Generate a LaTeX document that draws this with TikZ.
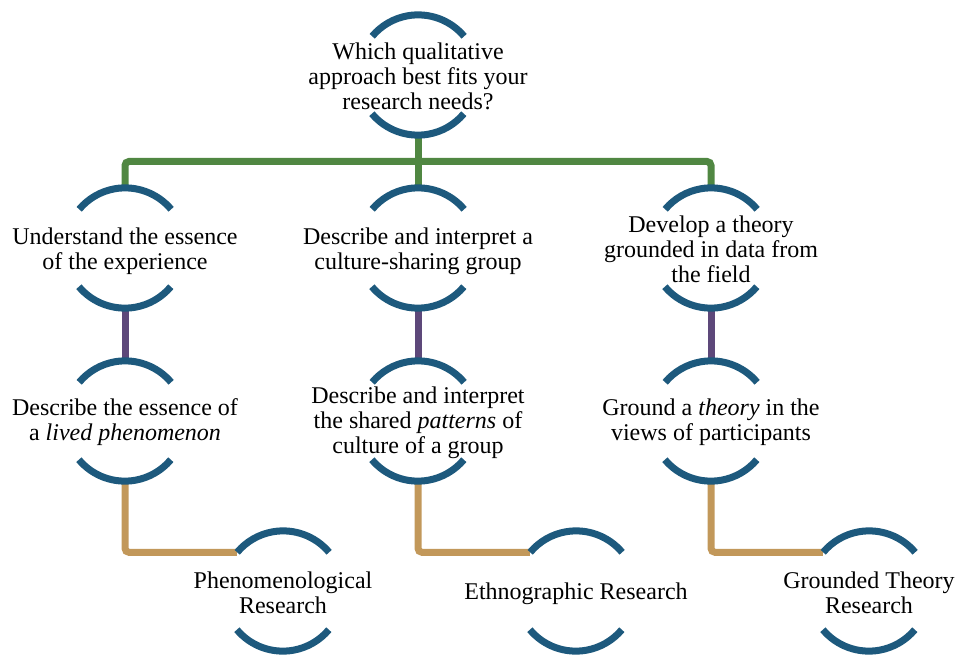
\documentclass[tikz,border=0pt]{standalone}
\usepackage{fontspec}
\setmainfont{Liberation Serif}
\usetikzlibrary{calc}
\definecolor{ringblue}{RGB}{29,89,125}
\definecolor{lgreen}{RGB}{80,135,66}
\definecolor{lpurple}{RGB}{93,72,122}
\definecolor{lgold}{RGB}{194,152,90}
\begin{document}
\begin{tikzpicture}[x=1pt,y=-1pt,
  ring/.style={circle, minimum size=120pt, inner sep=0pt, draw=none},
  txt/.style={align=center, font=\rmfamily\fontsize{24}{25}\selectfont, text=black, inner sep=0pt},
  arcline/.style={draw=ringblue, line width=7pt},
  gline/.style={draw=lgreen, line width=7pt, rounded corners=4pt},
  pline/.style={draw=lpurple, line width=7pt},
  oline/.style={draw=lgold, line width=7pt, rounded corners=4pt}]
\useasboundingbox (0,0) rectangle (957,655);
% ring positions
\node[ring] (q) at (418,75) {};
\node[ring] (a1) at (125,248) {};
\node[ring] (b1) at (418,248) {};
\node[ring] (c1) at (711,248) {};
\node[ring] (a2) at (125,421) {};
\node[ring] (b2) at (418,421) {};
\node[ring] (c2) at (711,421) {};
\node[ring] (a3) at (283,591) {};
\node[ring] (b3) at (576,591) {};
\node[ring] (c3) at (869,591) {};
% connectors
\coordinate (j) at ($(q.south)!0.5!(b1.north)$);
\draw[gline] (a1.north) |- (j) -| (c1.north);
\draw[gline] (q.south) -- (b1.north);
\draw[pline] (a1.south) -- (a2.north);
\draw[pline] (b1.south) -- (b2.north);
\draw[pline] (c1.south) -- (c2.north);
\draw[oline] (a2.south) |- (a3.140);
\draw[oline] (b2.south) |- (b3.140);
\draw[oline] (c2.south) |- (c3.140);
% arcs
\foreach \n in {q,a1,b1,c1,a2,b2,c2,a3,b3,c3}{
  \draw[arcline] (\n.40) arc[start angle=40,end angle=140,radius=60pt];
  \draw[arcline] (\n.220) arc[start angle=220,end angle=320,radius=60pt];
}
% texts
\node[txt] (tq) at ([yshift=-1pt]q.center) {Which qualitative\\approach best fits your\\research needs?};
\node[txt] (ta1) at ([yshift=-3pt]a1.center) {Understand the essence\\of the experience};
\node[txt] (tb1) at ([yshift=-3pt]b1.center) {Describe and interpret a\\culture-sharing group};
\node[txt] (tc1) at ([yshift=-1pt]c1.center) {Develop a theory\\grounded in data from\\the field};
\node[txt] (ta2) at ([yshift=-1pt]a2.center) {Describe the essence of\\a \textit{lived phenomenon}};
\node[txt] (tb2) at ([yshift=-2pt]b2.center) {Describe and interpret\\the shared \textit{patterns} of\\culture of a group};
\node[txt] (tc2) at ([yshift=-1pt]c2.center) {Ground a \textit{theory} in the\\views of participants};
\node[txt] (ta3) at ([yshift=-2pt]a3.center) {Phenomenological\\Research};
\node[txt] (tb3) at ([yshift=-3pt]b3.center) {Ethnographic Research};
\node[txt] (tc3) at ([yshift=-2pt]c3.center) {Grounded Theory\\Research};
\end{tikzpicture}
\end{document}
